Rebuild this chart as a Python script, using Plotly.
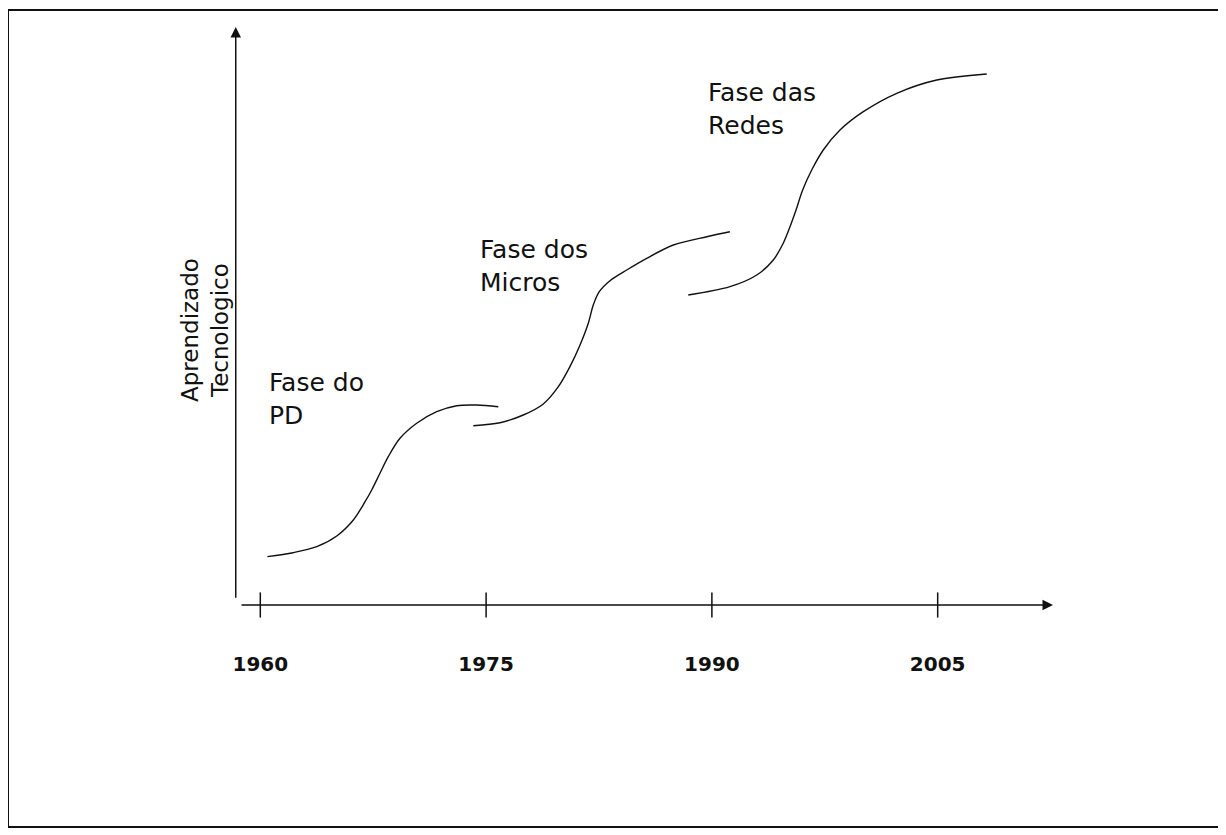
import plotly.graph_objects as go

# ---- data ----
tick_years = [1960, 1975, 1990, 2005]
tick_labels = ["1960", "1975", "1990", "2005"]

phase_names = ["Fase do<br>PD", "Fase dos<br>Micros", "Fase das<br>Redes"]

# S-curve 1: Fase do PD
pd_years = [1960.47, 1962.19, 1963.75, 1965.08, 1966.18, 1966.96, 1967.40, 1967.95,
            1968.50, 1969.28, 1970.39, 1971.72, 1973.05, 1974.38, 1975.81]
pd_level = [8.36, 9.05, 10.09, 11.94, 14.71, 17.87, 19.90, 22.79,
            25.66, 28.84, 31.44, 33.44, 34.48, 34.60, 34.31]

# S-curve 2: Fase dos Micros
micros_years = [1974.15, 1975.92, 1977.47, 1978.80, 1979.80, 1980.57, 1981.24, 1981.79,
                1982.12, 1982.52, 1983.23, 1984.34, 1985.67, 1987.44, 1989.66, 1991.20]
micros_level = [31.02, 31.54, 32.87, 34.78, 37.77, 41.23, 44.98, 48.74,
                51.90, 54.20, 56.11, 57.96, 59.98, 62.28, 63.72, 64.58]

# S-curve 3: Fase das Redes
redes_years = [1988.43, 1991.20, 1992.98, 1994.08, 1994.74, 1995.19, 1995.59, 1996.03,
               1996.63, 1997.40, 1998.51, 2000.06, 2002.28, 2004.94, 2008.26]
redes_level = [53.63, 55.07, 57.09, 59.69, 62.58, 65.45, 68.34, 71.80,
               75.26, 78.72, 82.18, 85.35, 88.53, 90.83, 91.87]

y_title = "Aprendizado<br>Tecnologico"

# ---- figure ----
X0, X1 = 1958.319, 2012.661
Y0, Y1 = 0, 100
INK = "#111111"
FONT = "DejaVu Sans"

fig = go.Figure()

for xs, ys in [(pd_years, pd_level), (micros_years, micros_level), (redes_years, redes_level)]:
    fig.add_trace(go.Scatter(x=xs, y=ys, mode="lines",
                             line=dict(color=INK, width=1.4, shape="spline", smoothing=0.9),
                             hoverinfo="skip", showlegend=False))

# tick marks crossing the x axis
fig.add_trace(go.Scatter(x=tick_years, y=[0] * len(tick_years), mode="markers",
                         marker=dict(symbol="line-ns", size=18, line=dict(color=INK, width=1.5)),
                         cliponaxis=False, hoverinfo="skip", showlegend=False))

# axis arrows
fig.add_annotation(x=X1, y=0, ax=1958.651, ay=0, xref="x", yref="y", axref="x", ayref="y",
                   text="", showarrow=True, arrowhead=2, arrowsize=1.4, arrowwidth=1.5, arrowcolor=INK)
fig.add_annotation(x=X0 + 0.05, y=Y1, ax=X0 + 0.05, ay=1.0, xref="x", yref="y", axref="x", ayref="y",
                   text="", showarrow=True, arrowhead=2, arrowsize=1.4, arrowwidth=1.5, arrowcolor=INK)

# phase labels
label_pos = [(1960.445, 41.35), (1974.46, 64.36), (1989.61, 91.52)]
for name, (lx, ly) in zip(phase_names, label_pos):
    fig.add_annotation(x=lx, y=ly, xref="x", yref="y", text=name, showarrow=False,
                       xanchor="left", yanchor="top", align="left",
                       font=dict(family=FONT, size=25, color=INK))

# y axis title
fig.add_annotation(x=-0.0367, y=0.4758, xref="paper", yref="paper", text=y_title, showarrow=False,
                   textangle=-90, xanchor="center", yanchor="middle", align="center",
                   font=dict(family=FONT, size=23, color=INK))

# scan frame
fig.add_shape(type="rect", xref="paper", yref="paper",
              x0=-0.2775, x1=1.2103, y0=-0.3841, y1=1.0294,
              line=dict(color=INK, width=2))

fig.update_xaxes(range=[X0, X1], showgrid=False, zeroline=False, showline=False,
                 tickvals=tick_years, ticktext=tick_labels, ticks="",
                 ticklabelstandoff=45,
                 tickfont=dict(family=FONT, size=20, color=INK, weight="bold"))
fig.update_yaxes(range=[Y0, Y1], showgrid=False, zeroline=False, showline=False,
                 showticklabels=False, ticks="")

fig.update_layout(width=1218, height=827, margin=dict(l=227, r=173, t=19, b=230),
                  plot_bgcolor="white", paper_bgcolor="white", showlegend=False)

fig.write_html("out.html")
